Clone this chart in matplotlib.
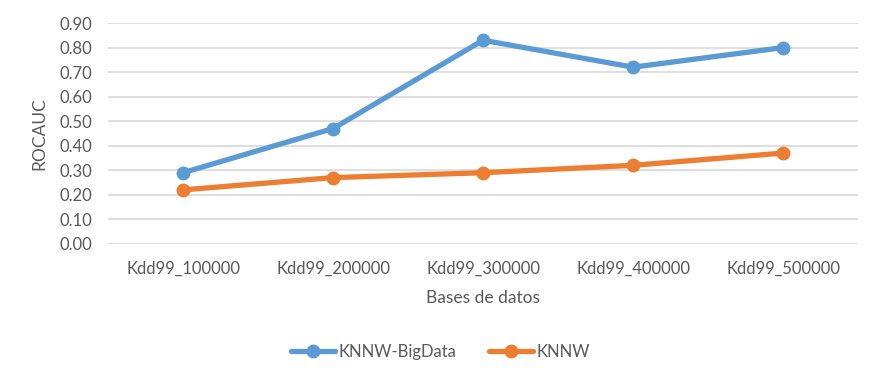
import matplotlib.pyplot as plt
import numpy as np

plt.rcParams['font.family'] = ['Lato', 'DejaVu Sans']

categories = ["Kdd99_100000", "Kdd99_200000", "Kdd99_300000", "Kdd99_400000", "Kdd99_500000"]
knnw_bigdata = [0.29, 0.47, 0.83, 0.72, 0.80]
knnw = [0.22, 0.27, 0.29, 0.32, 0.37]
yticks = [0.0, 0.1, 0.2, 0.3, 0.4, 0.5, 0.6, 0.7, 0.8, 0.9]

text_color = "#595959"
blue = "#5b9bd5"
orange = "#ed7d31"


def main():
    fig = plt.figure(figsize=(8.81, 3.84), dpi=100)
    ax = fig.add_axes([0.1226, 0.365, 0.8514, 0.575])

    x = np.arange(len(categories))
    ax.plot(x, knnw_bigdata, color=blue, lw=3.8, marker="o", ms=9,
            label="KNNW-BigData", solid_capstyle="round", zorder=3)
    ax.plot(x, knnw, color=orange, lw=3.8, marker="o", ms=9,
            label="KNNW", solid_capstyle="round", zorder=3)

    ax.set_xlim(-0.5, len(categories) - 0.5)
    ax.set_ylim(0, 0.9)
    ax.set_yticks(yticks)
    ax.set_yticklabels([f"{v:.2f}" for v in yticks])
    ax.set_xticks(x)
    ax.set_xticklabels(categories)
    ax.tick_params(length=0, labelsize=12, labelcolor=text_color)
    ax.tick_params(axis="x", pad=12)
    ax.tick_params(axis="y", pad=11)
    ax.grid(axis="y", color="#d9d9d9", lw=1.2)
    ax.set_axisbelow(True)
    for s in ax.spines.values():
        s.set_visible(False)

    ax.set_xlabel("Bases de datos", fontsize=12.5, color=text_color, labelpad=10)
    ax.set_ylabel("ROCAUC", fontsize=12.5, color=text_color, labelpad=9)

    fig.legend(loc="center", bbox_to_anchor=(0.5, 0.083), ncol=2, frameon=False,
               fontsize=12, labelcolor=text_color, handlelength=2.6,
               columnspacing=2, handletextpad=0.2)

    fig.savefig("out.png", dpi=100)
    plt.close(fig)


if __name__ == "__main__":
    main()
